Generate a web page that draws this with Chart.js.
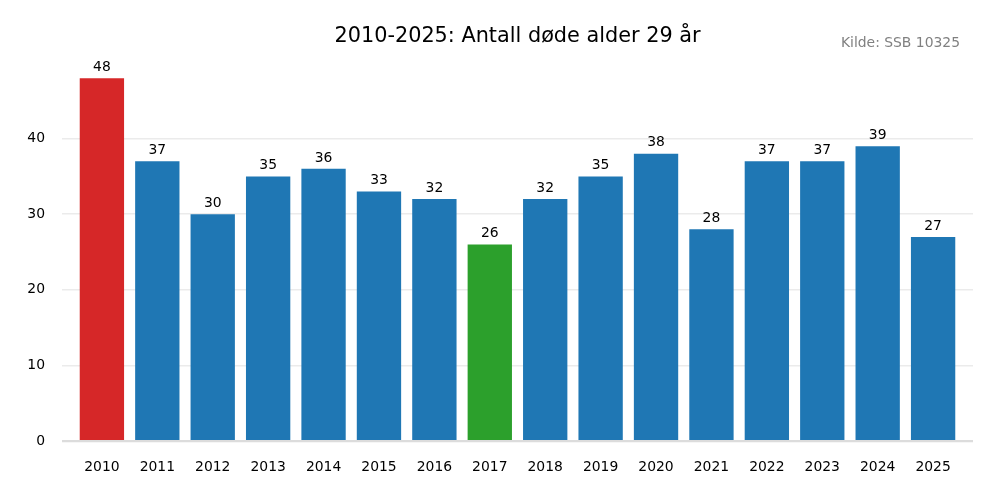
<!DOCTYPE html>
<html>
<head>
<meta charset="utf-8">
<script src="https://cdn.jsdelivr.net/npm/chart.js@4"></script>
<style>
html,body{margin:0;padding:0;background:#fff;}
#wrap{width:1000px;height:500px;position:relative;}
</style>
</head>
<body>
<div id="wrap"><canvas id="c" width="1000" height="500"></canvas></div>
<script>
const years = ['2010','2011','2012','2013','2014','2015','2016','2017','2018','2019','2020','2021','2022','2023','2024','2025'];
const deaths = [48,37,30,35,36,33,32,26,32,35,38,28,37,37,39,27];
const barColors = ['#d62728','#1f77b4','#1f77b4','#1f77b4','#1f77b4','#1f77b4','#1f77b4','#2ca02c','#1f77b4','#1f77b4','#1f77b4','#1f77b4','#1f77b4','#1f77b4','#1f77b4','#1f77b4'];
const yTicks = [0,10,20,30,40];
const titleText = '2010-2025: Antall døde alder 29 år';
const sourceText = 'Kilde: SSB 10325';

const FONT = '"DejaVu Sans", sans-serif';

const textPlugin = {
  id: 'texts',
  afterDatasetsDraw(chart) {
    const ctx = chart.ctx;
    const meta = chart.getDatasetMeta(0);
    ctx.save();
    ctx.fillStyle = '#000';
    ctx.font = '13.9px ' + FONT;
    ctx.textAlign = 'center';
    ctx.textBaseline = 'bottom';
    meta.data.forEach((bar, i) => {
      ctx.fillText(String(deaths[i]), bar.x, bar.y - 4);
    });
    ctx.restore();
  },
  afterDraw(chart) {
    const ctx = chart.ctx;
    const a = chart.chartArea;
    ctx.save();
    ctx.fillStyle = '#000';
    ctx.font = '20.8px ' + FONT;
    ctx.textAlign = 'center';
    ctx.textBaseline = 'middle';
    ctx.fillText(titleText, (a.left + a.right) / 2, 37);
    ctx.fillStyle = '#808080';
    ctx.font = '13.9px ' + FONT;
    ctx.textAlign = 'right';
    ctx.fillText(sourceText, 960, 43);
    ctx.restore();
  }
};

new Chart(document.getElementById('c'), {
  type: 'bar',
  data: {
    datasets: [{
      data: deaths.map((v, i) => ({x: i, y: v})),
      backgroundColor: barColors,
      borderWidth: 0,
      inflateAmount: 0,
      categoryPercentage: 1.0,
      barPercentage: 0.8
    }]
  },
  options: {
    responsive: false,
    animation: false,
    devicePixelRatio: 1,
    layout: { padding: { top: 60, right: 27, left: 0, bottom: 0 } },
    plugins: { legend: { display: false }, tooltip: { enabled: false }, title: { display: false } },
    scales: {
      x: {
        type: 'linear',
        offset: false,
        bounds: 'data',
        min: -0.72,
        max: 15.72,
        afterBuildTicks(scale) { scale.ticks = years.map((_, i) => ({ value: i })); },
        afterFit(scale) { scale.height = 59; },
        grid: { display: false, drawTicks: false },
        border: { display: false },
        ticks: {
          padding: 18,
          color: '#000',
          font: { family: FONT, size: 13.9 },
          maxRotation: 0,
          autoSkip: false,
          callback: (v) => years[v]
        }
      },
      y: {
        min: 0,
        max: 50.4,
        afterBuildTicks(scale) { scale.ticks = yTicks.map(v => ({ value: v })); },
        afterFit(scale) { scale.width = 62; },
        border: { display: false },
        grid: {
          drawTicks: false,
          color: (c) => c.tick && c.tick.value === 0 ? '#dcdcdc' : '#ebebeb',
          lineWidth: (c) => c.tick && c.tick.value === 0 ? 2.2 : 1.6
        },
        ticks: {
          padding: 17,
          color: '#000',
          font: { family: FONT, size: 13.9 }
        }
      }
    }
  },
  plugins: [textPlugin]
});
</script>
</body>
</html>
